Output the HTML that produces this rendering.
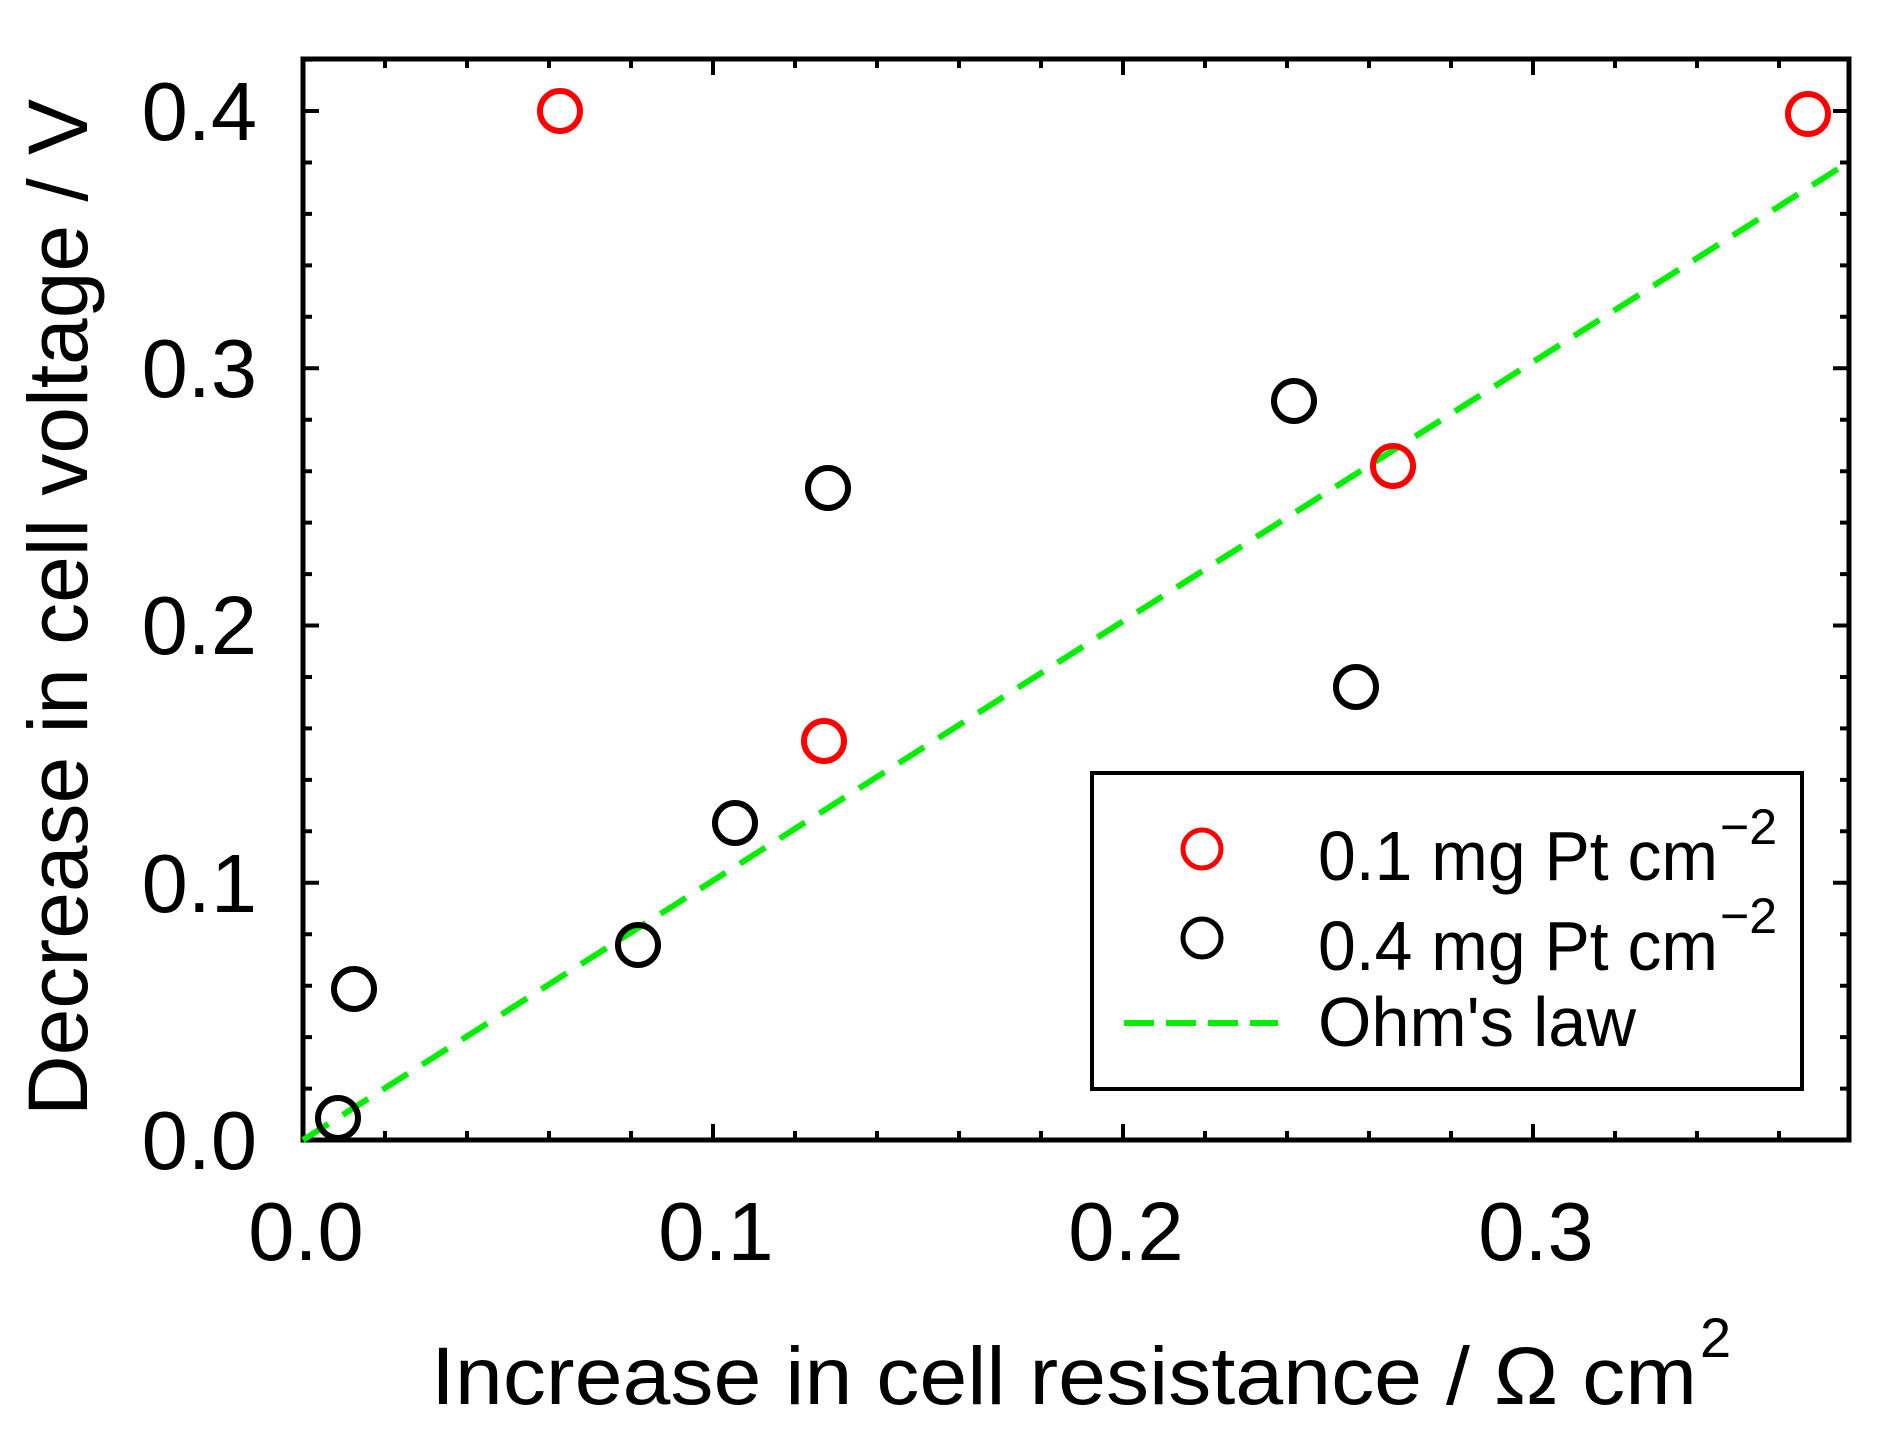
<!DOCTYPE html>
<html><head><meta charset="utf-8"><style>html,body{margin:0;padding:0;background:#fff}svg{display:block}</style></head>
<body>
<svg width="1893" height="1429" viewBox="0 0 1893 1429" xmlns="http://www.w3.org/2000/svg" font-family="Liberation Sans, Arial, sans-serif">
<rect width="1893" height="1429" fill="#fff"/>
<g stroke="#000" stroke-width="4">
<path d="M303 1140v-16M385 1140v-9M467 1140v-9M549 1140v-9M631 1140v-9M713 1140v-16M795 1140v-9M877 1140v-9M959 1140v-9M1041 1140v-9M1123 1140v-16M1205 1140v-9M1287 1140v-9M1369 1140v-9M1451 1140v-9M1533 1140v-16M1615 1140v-9M1697 1140v-9M1779 1140v-9
M385 59v9M467 59v9M549 59v9M631 59v9M713 59v16M795 59v9M877 59v9M959 59v9M1041 59v9M1123 59v16M1205 59v9M1287 59v9M1369 59v9M1451 59v9M1533 59v16M1615 59v9M1697 59v9M1779 59v9"/>
<path d="M303 1088.6h9M303 1037.1h9M303 985.7h9M303 934.2h9M303 882.8h16M303 831.3h9M303 779.9h9M303 728.4h9M303 677h9M303 625.5h16M303 574.1h9M303 522.6h9M303 471.2h9M303 419.7h9M303 368.3h16M303 316.8h9M303 265.4h9M303 213.9h9M303 162.5h9M303 111h16M303 59.6h9
M1849 1088.6h-9M1849 1037.1h-9M1849 985.7h-9M1849 934.2h-9M1849 882.8h-16M1849 831.3h-9M1849 779.9h-9M1849 728.4h-9M1849 677h-9M1849 625.5h-16M1849 574.1h-9M1849 522.6h-9M1849 471.2h-9M1849 419.7h-9M1849 368.3h-16M1849 316.8h-9M1849 265.4h-9M1849 213.9h-9M1849 162.5h-9M1849 111h-16"/>
</g>
<rect x="303" y="59" width="1546" height="1081" fill="none" stroke="#000" stroke-width="5"/>
<line x1="303" y1="1140" x2="1849" y2="162" stroke="#00ee00" stroke-width="6" stroke-dasharray="30 17"/>
<g fill="none" stroke-width="6">
<g stroke="#ff0000">
<circle cx="560" cy="111" r="20"/><circle cx="824" cy="741" r="20"/><circle cx="1393" cy="466" r="20"/><circle cx="1808" cy="114" r="20"/>
</g>
<g stroke="#000">
<circle cx="338" cy="1118" r="20"/><circle cx="354" cy="989" r="20"/><circle cx="638" cy="945" r="20"/><circle cx="735" cy="823" r="20"/><circle cx="828" cy="488" r="20"/><circle cx="1294" cy="401" r="20"/><circle cx="1356" cy="687" r="20"/>
</g>
</g>
<g font-size="83" fill="#000">
<text x="257" y="140" text-anchor="end">0.4</text>
<text x="257" y="397" text-anchor="end">0.3</text>
<text x="257" y="654" text-anchor="end">0.2</text>
<text x="257" y="912" text-anchor="end">0.1</text>
<text x="257" y="1169" text-anchor="end">0.0</text>
<text x="306" y="1260" text-anchor="middle">0.0</text>
<text x="716" y="1260" text-anchor="middle">0.1</text>
<text x="1126" y="1260" text-anchor="middle">0.2</text>
<text x="1536" y="1260" text-anchor="middle">0.3</text>
</g>
<text x="431" y="1404" font-size="82" textLength="1266" lengthAdjust="spacingAndGlyphs">Increase in cell resistance / Ω cm</text>
<text x="1700" y="1357" font-size="56">2</text>
<text transform="translate(87,1116) rotate(-90)" font-size="84" textLength="1017" lengthAdjust="spacingAndGlyphs">Decrease in cell voltage / V</text>
<rect x="1092" y="773" width="710" height="316" fill="#fff" stroke="#000" stroke-width="4"/>
<circle cx="1202" cy="849" r="19" fill="none" stroke="#ff0000" stroke-width="5"/>
<circle cx="1202" cy="938" r="19" fill="none" stroke="#000" stroke-width="5"/>
<line x1="1124" y1="1023" x2="1278" y2="1023" stroke="#00ee00" stroke-width="6" stroke-dasharray="30 12"/>
<g font-size="70" fill="#000">
<text x="1318" y="880" textLength="400" lengthAdjust="spacingAndGlyphs">0.1 mg Pt cm</text>
<text x="1720" y="844" font-size="50">−2</text>
<text x="1318" y="970" textLength="400" lengthAdjust="spacingAndGlyphs">0.4 mg Pt cm</text>
<text x="1720" y="933" font-size="50">−2</text>
<text x="1318" y="1046" textLength="318" lengthAdjust="spacingAndGlyphs">Ohm's law</text>
</g>
</svg>
</body></html>
